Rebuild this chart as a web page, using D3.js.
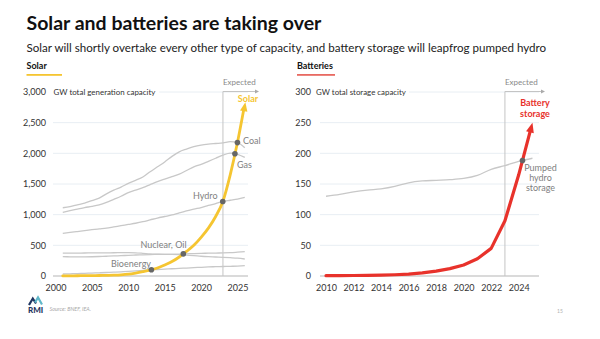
<!DOCTYPE html>
<html><head><meta charset="utf-8">
<script src="https://cdn.jsdelivr.net/npm/d3@7"></script>
<style>
html,body{margin:0;padding:0;background:#fff;}
svg{display:block;font-family:Lato,"Noto Sans",sans-serif;}
</style></head>
<body>
<svg id="chart" width="600" height="339"></svg>
<script>
// ---------- DATA ----------
const genYears = [2001,2002,2003,2004,2005,2006,2007,2008,2009,2010,2011,2012,2013,2014,2015,2016,2017,2018,2019,2020,2021,2022,2023,2024,2025,2026];
const solar   = [2,3,4,5,6,8,10,14,20,30,48,70,95,130,180,235,310,400,500,630,780,970,1220,1650,2180,2800];
const coal    = [1113,1130,1160,1190,1230,1270,1340,1400,1450,1510,1560,1614,1700,1780,1860,1950,2025,2070,2110,2135,2150,2160,2170,2190,2175,2090];
const gas     = [1039,1065,1090,1115,1135,1160,1200,1250,1300,1360,1400,1440,1490,1540,1580,1620,1660,1720,1780,1820,1870,1920,1970,2005,1985,1935];
const hydro   = [696,710,725,740,755,768,780,800,820,840,860,885,915,945,970,995,1030,1060,1090,1115,1150,1180,1215,1235,1255,1283];
const nuclear = [372,373,374,375,376,377,378,379,380,380,378,370,360,355,352,354,358,362,366,370,372,374,376,380,388,397];
const oil     = [315,313,312,312,314,318,322,327,332,337,342,346,350,352,353,352,348,340,332,322,315,310,305,298,290,277];
const bio     = [33,36,40,44,48,52,57,62,68,75,84,92,100,106,112,118,124,130,136,142,148,152,155,158,162,168];
const genTicksY = [0,500,1000,1500,2000,2500,3000];
const genTicksX = [2000,2005,2010,2015,2020,2025];

const stoYears = [2010,2011,2012,2013,2014,2015,2016,2017,2018,2019,2020,2021,2022,2023,2024,2025];
const battery  = [0.5,0.6,0.8,1,1.3,2,3,5,8,12,18,28,45,90,165,250];
const pumped   = [130,133,137,140,142,146,152,155,156,157,159,164,174,180,187,192];
const stoTicksY = [0,50,100,150,200,250,300];
const stoTicksX = [2010,2012,2014,2016,2018,2020,2022,2024];
const expectedYear = 2023;

// ---------- STYLE ----------
const YELLOW = "#F5C531", RED = "#E8322B", GREY_LINE = "#c8c8c8", LABEL = "#7f7f7f", DOT = "#666";
const GRID = "#e8eef3", AXIS = "#b5b5b5", TICK = "#333";

const svg = d3.select("#chart");

function fit(sel, target){
  const n = sel.node(); const fs = parseFloat(sel.attr("font-size"));
  const w = n.getComputedTextLength();
  sel.attr("font-size", (fs*target/w).toFixed(2));
}

// header
fit(svg.append("text").attr("x",26.5).attr("y",30).attr("font-size",20).attr("font-weight",700)
  .attr("fill","#111").text("Solar and batteries are taking over"), 295);
fit(svg.append("text").attr("x",26.5).attr("y",51.5).attr("font-size",12).attr("fill","#222")
  .text("Solar will shortly overtake every other type of capacity, and battery storage will leapfrog pumped hydro"), 520);

svg.append("text").attr("x",26.5).attr("y",69).attr("font-size",9).attr("font-weight",700).attr("fill","#111").text("Solar");
svg.append("rect").attr("x",26.5).attr("y",74).attr("width",35.5).attr("height",1.8).attr("fill",YELLOW);
svg.append("text").attr("x",297).attr("y",69).attr("font-size",9).attr("font-weight",700).attr("fill","#111").text("Batteries");
svg.append("rect").attr("x",297).attr("y",74).attr("width",38).attr("height",1.8).attr("fill","#E86A62");

function intersect(xs, a, b){
  for(let i=1;i<xs.length;i++){
    const d0=a[i-1]-b[i-1], d1=a[i]-b[i];
    if(d0<0 && d1>=0){ const t=d0/(d0-d1); return {x: xs[i-1]+t*(xs[i]-xs[i-1]), y: a[i-1]+t*(a[i]-a[i-1])}; }
  }
  return null;
}

function arrowHead(g, x, y, p0, p1, color, len, wid){
  const ang = Math.atan2(p1[1]-p0[1], p1[0]-p0[0]);
  const ux=Math.cos(ang), uy=Math.sin(ang);
  const bx=x-ux*len, by=y-uy*len;
  g.append("path").attr("d",`M${x},${y}L${bx-uy*wid/2},${by+ux*wid/2}L${bx+uy*wid/2},${by-ux*wid/2}Z`).attr("fill",color);
}

function panel(opt){
  const g = svg.append("g");
  const x = d3.scaleLinear().domain(opt.xd).range(opt.xr);
  const y = d3.scaleLinear().domain(opt.yd).range([276,92]);
  // grid
  opt.ticksY.forEach(t=>{
    if(t===0) return;
    g.append("line").attr("x1",opt.gx[0]).attr("x2",opt.gx[1]).attr("y1",y(t)).attr("y2",y(t))
      .attr("stroke",GRID).attr("stroke-width",1);
  });
  // y-axis labels
  const ya = g.append("g").attr("transform",`translate(${opt.tickRight},0)`)
    .call(d3.axisLeft(y).tickValues(opt.ticksY).tickSize(0).tickPadding(0).tickFormat(d3.format(",")));
  ya.select(".domain").remove();
  ya.selectAll("text").attr("font-size",9).attr("fill",TICK).attr("font-family","Lato");
  // unit label with white background
  const ul = g.append("text").attr("x",opt.unitX).attr("y",y(opt.yd[1])+3).attr("font-size",9).attr("fill",TICK).text(opt.unit);
  fit(ul, opt.unitW);
  const bb = ul.node().getBBox();
  g.insert("rect", () => ul.node()).attr("x",bb.x-2).attr("y",bb.y).attr("width",bb.width+5).attr("height",bb.height).attr("fill","#fff");
  // x axis
  const xa = g.append("g").attr("transform","translate(0,276)")
    .call(d3.axisBottom(x).tickValues(opt.ticksX).tickSize(0).tickPadding(9).tickFormat(d3.format("d")));
  xa.select(".domain").remove();
  xa.selectAll("text").attr("font-size",9).attr("fill",TICK).attr("font-family","Lato");
  g.append("line").attr("x1",opt.gx[0]).attr("x2",opt.gx[1]).attr("y1",276).attr("y2",276).attr("stroke",AXIS).attr("stroke-width",1);
  // expected bracket
  const ex = x(expectedYear);
  g.append("line").attr("x1",ex).attr("x2",ex).attr("y1",276).attr("y2",91.5).attr("stroke","#c4c4c4").attr("stroke-width",1);
  g.append("line").attr("x1",ex).attr("x2",opt.arrowX-3).attr("y1",91.5).attr("y2",91.5).attr("stroke","#c4c4c4").attr("stroke-width",1);
  g.append("path").attr("d",`M${opt.arrowX},91.5L${opt.arrowX-4},89.5L${opt.arrowX-4},93.5Z`).attr("fill","#aaa");
  g.append("text").attr("x",ex).attr("y",85).attr("font-size",8).attr("fill","#8a8a8a").text("Expected");
  return {g,x,y};
}

// ---------- LEFT PANEL ----------
const L = panel({xd:[2000,2025], xr:[55.5,237.5], yd:[0,3000], gx:[53,248], ticksY:genTicksY, ticksX:genTicksX,
  tickRight:46, unit:"GW total generation capacity", unitX:53.5, unitW:102, arrowX:259});
const lineL = d3.line().x((d,i)=>L.x(genYears[i])).y(d=>L.y(d)).curve(d3.curveMonotoneX);
[coal,gas,hydro,nuclear,oil,bio].forEach(s=>{
  L.g.append("path").attr("d",lineL(s)).attr("fill","none").attr("stroke",GREY_LINE).attr("stroke-width",1.3);
});
// solar line (stop slightly short of the tip)
{
  const n = solar.length;
  const tipX = L.x(genYears[n-1]), tipY = L.y(solar[n-1]);
  const prev = [L.x(genYears[n-2]), L.y(solar[n-2])];
  const ang = Math.atan2(tipY-prev[1], tipX-prev[0]);
  const pts = solar.map((v,i)=>[L.x(genYears[i]), L.y(v)]);
  const last = pts[n-1];
  const shortPts = pts.slice(); shortPts[n-1] = [last[0]-Math.cos(ang)*6, last[1]-Math.sin(ang)*6];
  L.g.append("path").attr("d",d3.line().curve(d3.curveMonotoneX)(shortPts)).attr("fill","none")
    .attr("stroke",YELLOW).attr("stroke-width",2.8).attr("stroke-linecap","round");
  arrowHead(L.g, tipX+0.6, tipY-2, prev, [tipX,tipY], YELLOW, 9, 7.5);
}
[bio, nuclear, hydro, gas, coal].forEach(s=>{
  const p = intersect(genYears, solar, s);
  if(p) L.g.append("circle").attr("cx",L.x(p.x)).attr("cy",L.y(p.y)).attr("r",2.8).attr("fill",DOT);
});
const lab = (g,x,y,t,anchor,color,weight)=>g.append("text").attr("x",x).attr("y",y).attr("font-size",9)
  .attr("text-anchor",anchor||"start").attr("fill",color||LABEL).attr("font-weight",weight||400).text(t);
lab(L.g,248,101.5,"Solar","middle",YELLOW,700);
lab(L.g,243,144,"Coal");
lab(L.g,237,167.5,"Gas");
lab(L.g,217.5,199,"Hydro","end");
lab(L.g,163.5,248,"Nuclear, Oil","middle");
lab(L.g,131,267,"Bioenergy","middle");

// ---------- RIGHT PANEL ----------
const R = panel({xd:[2010,2024], xr:[326,518.7], yd:[0,300], gx:[320,539], ticksY:stoTicksY, ticksX:stoTicksX,
  tickRight:311, unit:"GW total storage capacity", unitX:316, unitW:90, arrowX:545});
const lineR = d3.line().x((d,i)=>R.x(stoYears[i])).y(d=>R.y(d));
R.g.append("path").attr("d",lineR.curve(d3.curveMonotoneX)(pumped)).attr("fill","none").attr("stroke",GREY_LINE).attr("stroke-width",1.3);
{
  const n = battery.length;
  const pts = battery.map((v,i)=>[R.x(stoYears[i]), R.y(v)]);
  const tip = pts[n-1], prev = pts[n-2];
  const ang = Math.atan2(tip[1]-prev[1], tip[0]-prev[0]);
  const sp = pts.slice(); sp[n-1] = [tip[0]-Math.cos(ang)*7, tip[1]-Math.sin(ang)*7];
  R.g.append("path").attr("d",d3.line()(sp)).attr("fill","none").attr("stroke",RED).attr("stroke-width",3.2)
    .attr("stroke-linejoin","round").attr("stroke-linecap","round");
  arrowHead(R.g, tip[0], tip[1], prev, tip, RED, 10, 8);
}
{
  const p = intersect(stoYears, battery, pumped);
  if(p) R.g.append("circle").attr("cx",R.x(p.x)).attr("cy",R.y(p.y)).attr("r",2.8).attr("fill",DOT);
}
lab(R.g,535,106,"Battery","middle",RED,700);
lab(R.g,535,116.5,"storage","middle",RED,700);
lab(R.g,540.5,170.5,"Pumped","middle");
lab(R.g,540.5,180.5,"hydro","middle");
lab(R.g,540.5,190.5,"storage","middle");

// ---------- FOOTER ----------
svg.append("polyline").attr("points","29,305 32.8,298.5 36,303.5").attr("fill","none").attr("stroke","#1f3560").attr("stroke-width",2.2).attr("stroke-linejoin","miter");
svg.append("polyline").attr("points","35,302.5 38,297.5 42,304.5").attr("fill","none").attr("stroke","#5fb7c9").attr("stroke-width",2.2).attr("stroke-linejoin","miter");
svg.append("text").attr("x",28).attr("y",312.5).attr("font-size",8).attr("font-weight",900).attr("fill","#1f3560").text("RMI");
svg.append("text").attr("x",49.5).attr("y",310.5).attr("font-size",5.4).attr("font-style","italic").attr("fill","#a8a8a8").text("Source: BNEF, IEA.");
svg.append("text").attr("x",557).attr("y",313).attr("font-size",5).attr("fill","#b0b0b0").text("15");
</script>
</body></html>
